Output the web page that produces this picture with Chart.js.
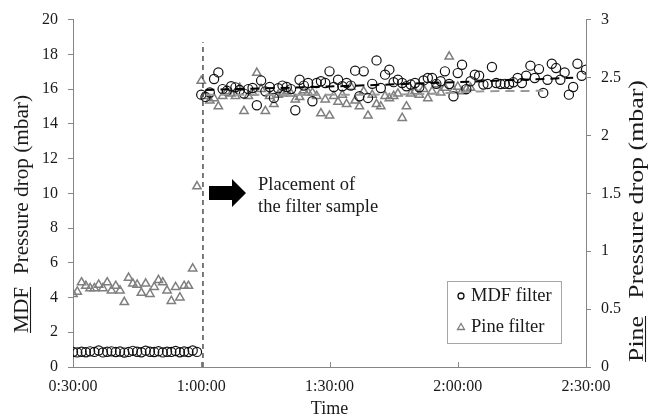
<!DOCTYPE html>
<html><head><meta charset="utf-8">
<script src="https://cdn.jsdelivr.net/npm/chart.js@4.4.0/dist/chart.umd.min.js"></script>
<style>html,body{margin:0;padding:0;background:#fff;}#wrap{width:649px;height:418px;position:relative;}</style>
</head><body><div id="wrap"><canvas id="c" width="649" height="418"></canvas></div>
<script>
// ---- data (time in minutes) ----
const xTickValues = [30, 60, 90, 120, 150];
const xTickLabels = ['0:30:00', '1:00:00', '1:30:00', '2:00:00', '2:30:00'];

const mdfTimes = [30,31,32,33,34,35,36,37,38,39,40,41,42,43,44,45,46,47,48,49,50,51,52,53,54,55,56,57,58,59,
  60,61,62,63,64,65,66,67,68,69,70,71,72,73,74,75,76,77,78,79,80,81,82,83,84,85,86,87,88,89,
  90,91,92,93,94,95,96,97,98,99,100,101,102,103,104,105,106,107,108,109,110,111,112,113,114,115,116,117,118,119,
  120,121,122,123,124,125,126,127,128,129,130,131,132,133,134,135,136,137,138,139,140,141,142,143,144,145,146,147,148,149,150];
const mdfValues = [0.86,0.84,0.88,0.85,0.9,0.87,0.95,0.84,0.88,0.9,0.86,0.89,0.83,0.87,0.93,0.88,0.85,0.94,0.88,0.86,0.91,0.84,0.88,0.87,0.92,0.85,0.89,0.86,0.95,0.87,
  15.68,15.55,15.8,16.58,16.96,16.0,15.9,16.16,16.1,15.95,
  15.74,16.0,16.06,15.07,16.49,15.87,16.12,15.49,16.05,16.2,
  16.12,16.0,14.78,16.54,16.2,16.35,15.3,16.35,16.45,16.35,
  17.02,16.12,16.54,16.16,16.35,16.2,17.06,15.59,17.02,15.49,
  16.3,17.65,16.06,16.83,17.12,16.4,16.54,16.35,16.16,16.26,
  16.35,16.1,16.5,16.64,16.64,16.3,16.45,17.02,16.29,15.59,
  16.92,17.4,16.0,16.45,16.83,16.77,16.26,16.29,17.27,16.35,
  16.29,16.3,16.29,16.39,16.64,16.35,16.77,17.35,16.64,17.15,
  15.78,16.54,17.46,17.21,16.54,16.96,15.68,16.12,17.46,16.77,17.12];

const pineTimes = [30,31,32,33,34,35,36,37,38,39,40,41,42,43,44,45,46,47,48,49,50,51,52,53,54,55,56,57,58,59,
  60,61,62,63,64,65,66,67,68,69,70,71,72,73,74,75,76,77,78,79,80,81,82,83,84,85,86,87,88,89,
  90,91,92,93,94,95,96,97,98,99,100,101,102,103,104,105,106,107,108,109,110,111,112,113,114,115,116,117,118,119,
  120,121,122,123];
const pineValues = [0.63,0.65,0.73,0.70,0.68,0.68,0.71,0.68,0.73,0.66,0.70,0.66,0.56,0.77,0.72,0.71,0.64,0.72,0.63,0.69,0.75,0.73,0.66,0.57,0.69,0.60,0.70,0.70,0.85,
  1.56,2.47,
  2.34,2.30,2.32,2.25,2.34,2.38,2.36,2.34,2.41,2.21,2.34,2.37,2.54,2.40,2.21,2.34,2.27,2.35,2.36,2.38,
  2.36,2.31,2.33,2.39,2.37,2.37,2.34,2.19,2.31,2.17,
  2.34,2.29,2.35,2.27,2.42,2.30,2.25,2.38,2.17,2.35,
  2.27,2.25,2.34,2.32,2.34,2.36,2.15,2.25,2.36,2.38,
  2.35,2.40,2.32,2.38,2.44,2.37,2.41,2.68,2.39,2.42,
  2.38,2.40,2.41];

const mdfTrendTimes = [61, 90, 120, 147];
const mdfTrendValues = [15.95, 16.15, 16.4, 16.65];
const pineTrendTimes = [61, 110, 125, 140];
const pineTrendValues = [2.35, 2.355, 2.38, 2.385];
const placementTimes = [60.4, 60.4];
const placementValues = [0, 18.7];

const seriesNames = ['MDF filter', 'Pine filter'];
const leftTitle = ['MDF', 'Pressure drop (mbar)'];
const rightTitle = ['Pine', 'Pressure drop (mbar)'];
const xTitle = 'Time';
const annotationLines = ['Placement of', 'the filter sample'];

// ---- styling ----
const SERIF = '"Liberation Serif", "Times New Roman", serif';
const axisColor = '#868686';
const textColor = '#1a1a1a';
const pts = (xs, ys) => xs.map((x, i) => ({x, y: ys[i]}));

const deco = {
  id: 'deco',
  afterDraw(chart) {
    const {ctx, chartArea: a, scales: {x}} = chart;
    ctx.save();
    // inside tick marks on x axis
    ctx.strokeStyle = axisColor; ctx.lineWidth = 1;
    xTickValues.forEach(v => {
      const px = Math.round(x.getPixelForValue(v)) + 0.5;
      ctx.beginPath(); ctx.moveTo(px, a.bottom); ctx.lineTo(px, a.bottom - 5); ctx.stroke();
    });
    ctx.fillStyle = textColor;
    ctx.strokeStyle = textColor;
    // rotated titles with underlined first word
    const drawTitle = (parts, cx, cy, size, gap, span) => {
      ctx.save();
      ctx.font = size + 'px ' + SERIF;
      const w0 = ctx.measureText(parts[0]).width;
      const w1 = ctx.measureText(parts[1]).width;
      const total = w0 + gap + w1;
      const k = span / total;
      ctx.translate(cx, cy);
      ctx.rotate(-Math.PI / 2);
      ctx.scale(k, 1);
      const sx = -total / 2;
      ctx.textBaseline = 'alphabetic';
      ctx.textAlign = 'left';
      ctx.fillText(parts[0], sx, 7);
      ctx.fillText(parts[1], sx + w0 + gap, 7);
      ctx.lineWidth = 1.1;
      ctx.beginPath(); ctx.moveTo(sx, 9.5); ctx.lineTo(sx + w0, 9.5); ctx.stroke();
      ctx.restore();
    };
    drawTitle(leftTitle, 21, 214, 20, 12, 238);
    drawTitle(rightTitle, 636, 221, 21, 14, 282);
    // x title
    ctx.font = '18px ' + SERIF;
    ctx.textAlign = 'center'; ctx.textBaseline = 'middle';
    ctx.fillText(xTitle, (a.left + a.right) / 2, 409);
    // annotation arrow
    ctx.fillStyle = '#000';
    ctx.beginPath();
    ctx.moveTo(209, 186); ctx.lineTo(232, 186); ctx.lineTo(232, 179); ctx.lineTo(246, 193);
    ctx.lineTo(232, 207); ctx.lineTo(232, 200); ctx.lineTo(209, 200); ctx.closePath(); ctx.fill();
    ctx.fillStyle = textColor;
    ctx.font = '18.5px ' + SERIF;
    ctx.textAlign = 'left'; ctx.textBaseline = 'middle';
    ctx.fillText(annotationLines[0], 258, 185);
    ctx.fillText(annotationLines[1], 258, 207);
    // legend
    const lx = 447.5, ly = 281.5, lw = 114, lh = 62;
    ctx.fillStyle = '#fff'; ctx.fillRect(lx, ly, lw, lh);
    ctx.strokeStyle = '#a6a6a6'; ctx.lineWidth = 1; ctx.strokeRect(lx, ly, lw, lh);
    const ds = chart.data.datasets;
    [0, 1].forEach(i => {
      const yy = 296 + i * 31;
      ctx.save();
      ctx.strokeStyle = ds[i].borderColor; ctx.lineWidth = 1.3;
      ctx.beginPath();
      if (i === 0) { ctx.arc(461, yy, 3, 0, Math.PI * 2); }
      else { ctx.moveTo(461, yy - 3.5); ctx.lineTo(464.5, yy + 2.5); ctx.lineTo(457.5, yy + 2.5); ctx.closePath(); }
      ctx.stroke();
      ctx.restore();
      ctx.fillStyle = textColor; ctx.font = '18.5px ' + SERIF;
      ctx.textAlign = 'left'; ctx.textBaseline = 'middle';
      ctx.fillText(seriesNames[i], 471, yy);
    });
    ctx.restore();
  }
};

const tickFont = {family: SERIF, size: 16};

new Chart(document.getElementById('c'), {
  type: 'scatter',
  data: {
    datasets: [
      {label: seriesNames[0], data: pts(mdfTimes, mdfValues), yAxisID: 'y', pointStyle: 'circle', pointRadius: 4.6,
       borderColor: '#111', backgroundColor: 'rgba(0,0,0,0)', borderWidth: 1.2, order: 2},
      {label: seriesNames[1], data: pts(pineTimes, pineValues), yAxisID: 'y2', pointStyle: 'triangle', pointRadius: 4.8,
       borderColor: '#7f7f7f', backgroundColor: 'rgba(0,0,0,0)', borderWidth: 1.5, order: 3},
      {type: 'line', label: 'MDF trend', data: pts(mdfTrendTimes, mdfTrendValues), yAxisID: 'y', borderColor: '#000',
       borderWidth: 2, borderDash: [9, 6], pointRadius: 0, fill: false, tension: 0.3, order: 1},
      {type: 'line', label: 'Pine trend', data: pts(pineTrendTimes, pineTrendValues), yAxisID: 'y2', borderColor: '#9a9a9a',
       borderWidth: 2, borderDash: [9, 6], pointRadius: 0, fill: false, tension: 0.3, order: 1},
      {type: 'line', label: 'Placement', data: pts(placementTimes, placementValues), yAxisID: 'y', borderColor: '#333',
       borderWidth: 1.3, borderDash: [5, 4], pointRadius: 0, fill: false, order: 0}
    ]
  },
  options: {
    responsive: false, animation: false, devicePixelRatio: 1,
    layout: {padding: {left: 33, right: 23, top: 18, bottom: 0}},
    plugins: {legend: {display: false}, tooltip: {enabled: false}},
    scales: {
      x: {type: 'linear', min: 30, max: 150,
          afterBuildTicks: s => { s.ticks = xTickValues.map(v => ({value: v})); },
          afterFit: s => { s.height = 51; },
          ticks: {callback: v => xTickLabels[xTickValues.indexOf(v)], font: tickFont, color: textColor, padding: 10, maxRotation: 0, autoSkip: false},
          grid: {display: false, drawTicks: false},
          border: {display: true, color: axisColor, width: 1}},
      y: {position: 'left', min: 0, max: 20,
          afterFit: s => { s.width = 40; },
          ticks: {stepSize: 2, font: tickFont, color: textColor, padding: 10},
          grid: {drawOnChartArea: false, drawTicks: true, tickLength: 5, color: axisColor},
          border: {display: true, color: axisColor, width: 1}},
      y2: {position: 'right', min: 0, max: 3,
          afterFit: s => { s.width = 40; },
          ticks: {stepSize: 0.5, font: tickFont, color: textColor, padding: 10, callback: v => String(v)},
          grid: {drawOnChartArea: false, drawTicks: true, tickLength: 5, color: axisColor},
          border: {display: true, color: axisColor, width: 1}}
    }
  },
  plugins: [deco]
});
</script></body></html>
